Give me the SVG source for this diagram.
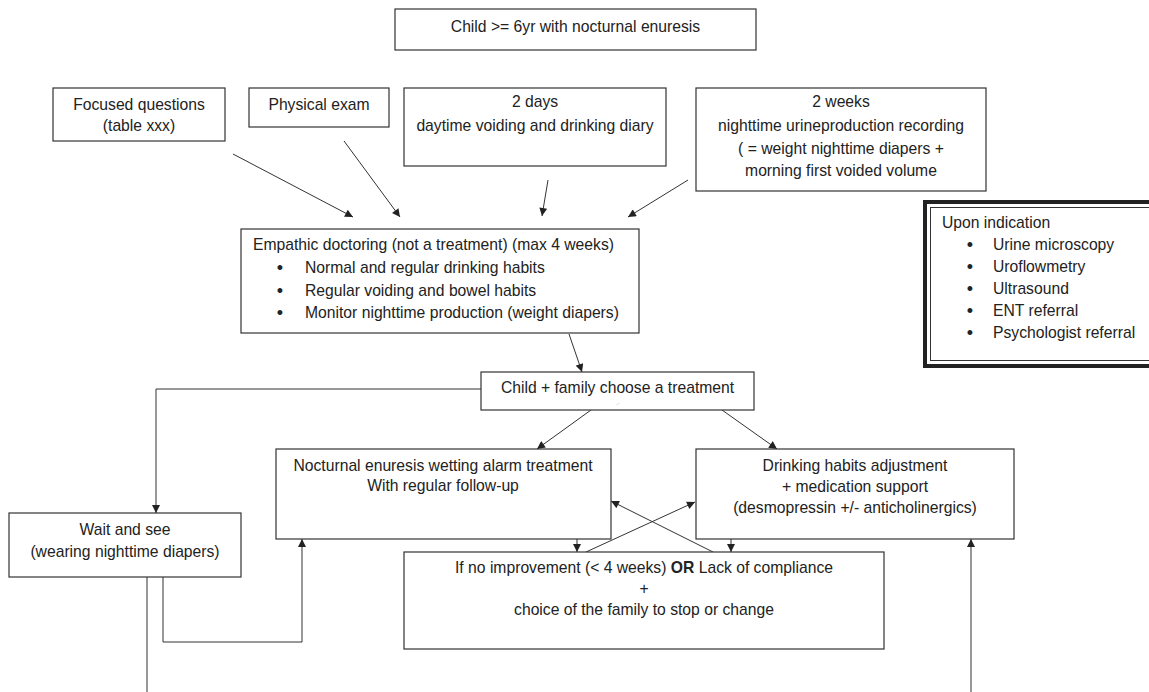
<svg xmlns="http://www.w3.org/2000/svg" width="1149" height="692" viewBox="0 0 1149 692">
<defs>
<marker id="arr" viewBox="0 0 10 10" refX="10" refY="5" markerWidth="9" markerHeight="8" markerUnits="userSpaceOnUse" orient="auto">
<path d="M0,0 L10,5 L0,10 z" fill="#222"/>
</marker>
<style>
.box{fill:#fff;stroke:#333;stroke-width:1.2}
.t{font-family:"Liberation Sans",Arial,sans-serif;font-size:15.7px;fill:#222}
.c{text-anchor:middle}
.b{font-family:"Liberation Sans",Arial,sans-serif;font-size:18px;fill:#222;text-anchor:middle}
.ln{fill:none;stroke:#333;stroke-width:1}
.a{marker-end:url(#arr)}
</style>
</defs>
<rect width="1149" height="692" fill="#fff"/>
<g id="connectors">
<line class="ln a" x1="233" y1="154" x2="353" y2="217"/>
<line class="ln a" x1="344" y1="141" x2="400" y2="217"/>
<line class="ln a" x1="548" y1="180" x2="542" y2="216"/>
<line class="ln a" x1="688" y1="180" x2="628" y2="217"/>
<line class="ln a" x1="569" y1="334" x2="582" y2="372"/>
<polyline class="ln a" points="481,389 156,389 156,513"/>
<line class="ln a" x1="591" y1="410" x2="537" y2="449"/>
<line class="ln a" x1="722" y1="410" x2="777" y2="449"/>
<line class="ln a" x1="577" y1="539" x2="577" y2="552"/>
<line class="ln a" x1="731" y1="539" x2="731" y2="552"/>
<line class="ln a" x1="586" y1="552" x2="695" y2="502"/>
<line class="ln a" x1="713" y1="552" x2="611" y2="501"/>
<line class="ln" x1="147" y1="577" x2="147" y2="692"/>
<polyline class="ln a" points="163,577 163,642 302,642 302,539"/>
<line class="ln a" x1="971" y1="692" x2="971" y2="539"/>
</g>
<g id="start">
<rect class="box" x="395" y="9" width="361" height="41"/>
<text class="t c" x="575.5" y="32">Child &gt;= 6yr with nocturnal enuresis</text>
</g>
<g id="focused">
<rect class="box" x="53" y="88" width="172" height="53"/>
<text class="t c" x="139" y="110">Focused questions</text>
<text class="t c" x="139" y="131">(table xxx)</text>
</g>
<g id="physical">
<rect class="box" x="249" y="88" width="140" height="39"/>
<text class="t c" x="319" y="110">Physical exam</text>
</g>
<g id="diary">
<rect class="box" x="404" y="88" width="262" height="78"/>
<text class="t c" x="535" y="107">2 days</text>
<text class="t c" x="535" y="131">daytime voiding and drinking diary</text>
</g>
<g id="recording">
<rect class="box" x="696" y="88" width="290" height="103"/>
<text class="t c" x="841" y="107">2 weeks</text>
<text class="t c" x="841" y="131">nighttime urineproduction recording</text>
<text class="t c" x="841" y="154">( = weight nighttime diapers +</text>
<text class="t c" x="841" y="176">morning first voided volume</text>
</g>
<g id="empathic">
<rect class="box" x="241" y="229" width="398" height="104"/>
<text class="t" x="253" y="250">Empathic doctoring (not a treatment) (max 4 weeks)</text>
<text class="b" x="280" y="274">•</text><text class="t" x="305" y="273">Normal and regular drinking habits</text>
<text class="b" x="280" y="297">•</text><text class="t" x="305" y="296">Regular voiding and bowel habits</text>
<text class="b" x="280" y="319">•</text><text class="t" x="305" y="318">Monitor nighttime production (weight diapers)</text>
</g>
<g id="indication">
<rect x="925" y="202" width="230" height="164" fill="#fff" stroke="#222" stroke-width="4"/>
<rect x="930.5" y="207.5" width="225" height="153" fill="none" stroke="#333" stroke-width="1"/>
<text class="t" x="942" y="228">Upon indication</text>
<text class="b" x="970" y="251">•</text><text class="t" x="993" y="250">Urine microscopy</text>
<text class="b" x="970" y="273">•</text><text class="t" x="993" y="272">Uroflowmetry</text>
<text class="b" x="970" y="295">•</text><text class="t" x="993" y="294">Ultrasound</text>
<text class="b" x="970" y="317">•</text><text class="t" x="993" y="316">ENT referral</text>
<text class="b" x="970" y="339">•</text><text class="t" x="993" y="338">Psychologist referral</text>
</g>
<g id="choose">
<rect class="box" x="481" y="372" width="273" height="38"/>
<text class="t c" x="617.5" y="393">Child + family choose a treatment</text>
<text x="618" y="405" font-family="Liberation Sans, sans-serif" font-size="6" fill="#777" text-anchor="middle">.·</text>
</g>
<g id="alarm">
<rect class="box" x="276" y="449" width="335" height="90"/>
<text class="t c" x="443" y="471">Nocturnal enuresis wetting alarm treatment</text>
<text class="t c" x="443" y="491">With regular follow-up</text>
</g>
<g id="medication">
<rect class="box" x="696" y="449" width="318" height="90"/>
<text class="t c" x="855" y="471">Drinking habits adjustment</text>
<text class="t c" x="855" y="492">+ medication support</text>
<text class="t c" x="855" y="513">(desmopressin +/- anticholinergics)</text>
</g>
<g id="wait">
<rect class="box" x="9" y="513" width="232" height="64"/>
<text class="t c" x="125" y="535">Wait and see</text>
<text class="t c" x="125" y="557">(wearing nighttime diapers)</text>
</g>
<g id="noimprovement">
<rect class="box" x="404" y="552" width="480" height="97"/>
<text class="t c" x="644" y="573">If no improvement (&lt; 4 weeks) <tspan font-weight="bold">OR</tspan> Lack of compliance</text>
<text class="t c" x="644" y="594">+</text>
<text class="t c" x="644" y="615">choice of the family to stop or change</text>
</g>
</svg>
